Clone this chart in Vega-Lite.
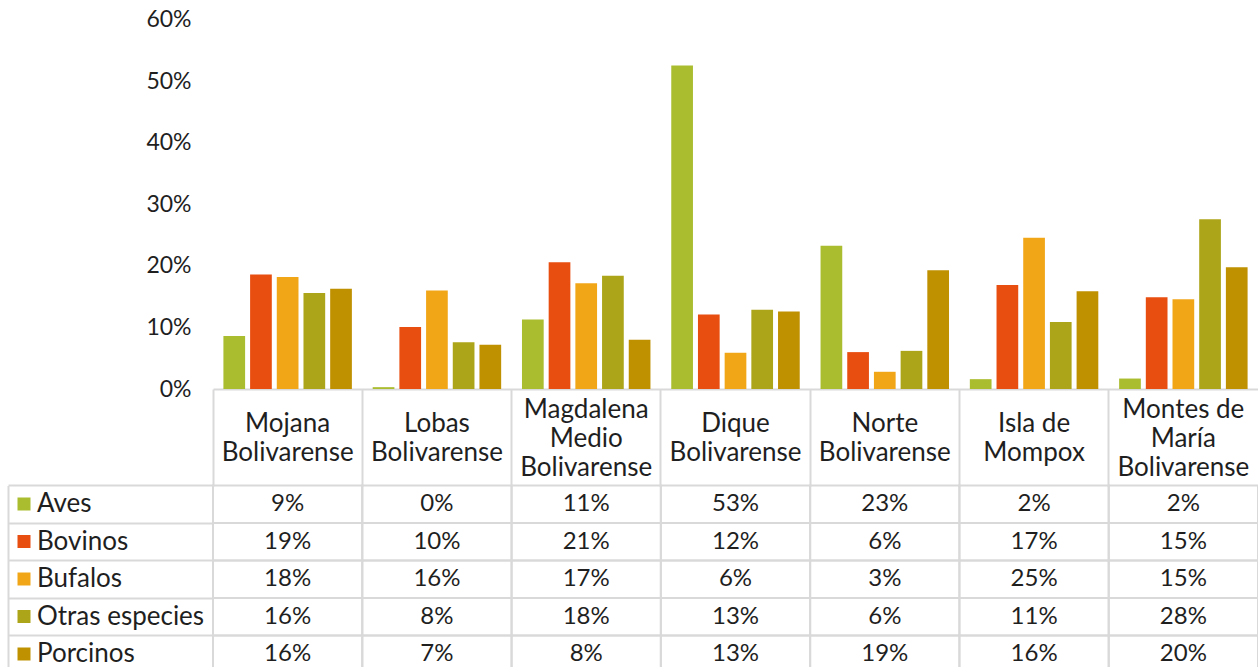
{
  "$schema": "https://vega.github.io/schema/vega-lite/v6.json",
  "width": 1045,
  "height": 389,
  "autosize": "none",
  "padding": {"left": 213, "top": 0, "right": 0, "bottom": 278},
  "background": "white",
  "config": {
    "font": "Lato",
    "view": {"stroke": null},
    "axis": {"labelColor": "#1f1f1f", "labelFont": "Lato"},
    "legend": {"labelColor": "#1f1f1f", "labelFont": "Lato"}
  },
  "data": {
    "values": [
      {"region": "Mojana Bolivarense", "species": "Aves", "value": 0.086},
      {"region": "Mojana Bolivarense", "species": "Bovinos", "value": 0.186},
      {"region": "Mojana Bolivarense", "species": "Bufalos", "value": 0.182},
      {"region": "Mojana Bolivarense", "species": "Otras especies", "value": 0.156},
      {"region": "Mojana Bolivarense", "species": "Porcinos", "value": 0.163},
      {"region": "Lobas Bolivarense", "species": "Aves", "value": 0.003},
      {"region": "Lobas Bolivarense", "species": "Bovinos", "value": 0.101},
      {"region": "Lobas Bolivarense", "species": "Bufalos", "value": 0.160},
      {"region": "Lobas Bolivarense", "species": "Otras especies", "value": 0.076},
      {"region": "Lobas Bolivarense", "species": "Porcinos", "value": 0.072},
      {"region": "Magdalena Medio Bolivarense", "species": "Aves", "value": 0.113},
      {"region": "Magdalena Medio Bolivarense", "species": "Bovinos", "value": 0.206},
      {"region": "Magdalena Medio Bolivarense", "species": "Bufalos", "value": 0.172},
      {"region": "Magdalena Medio Bolivarense", "species": "Otras especies", "value": 0.184},
      {"region": "Magdalena Medio Bolivarense", "species": "Porcinos", "value": 0.080},
      {"region": "Dique Bolivarense", "species": "Aves", "value": 0.526},
      {"region": "Dique Bolivarense", "species": "Bovinos", "value": 0.121},
      {"region": "Dique Bolivarense", "species": "Bufalos", "value": 0.059},
      {"region": "Dique Bolivarense", "species": "Otras especies", "value": 0.129},
      {"region": "Dique Bolivarense", "species": "Porcinos", "value": 0.126},
      {"region": "Norte Bolivarense", "species": "Aves", "value": 0.233},
      {"region": "Norte Bolivarense", "species": "Bovinos", "value": 0.060},
      {"region": "Norte Bolivarense", "species": "Bufalos", "value": 0.028},
      {"region": "Norte Bolivarense", "species": "Otras especies", "value": 0.062},
      {"region": "Norte Bolivarense", "species": "Porcinos", "value": 0.193},
      {"region": "Isla de Mompox", "species": "Aves", "value": 0.016},
      {"region": "Isla de Mompox", "species": "Bovinos", "value": 0.169},
      {"region": "Isla de Mompox", "species": "Bufalos", "value": 0.246},
      {"region": "Isla de Mompox", "species": "Otras especies", "value": 0.109},
      {"region": "Isla de Mompox", "species": "Porcinos", "value": 0.159},
      {"region": "Montes de María Bolivarense", "species": "Aves", "value": 0.017},
      {"region": "Montes de María Bolivarense", "species": "Bovinos", "value": 0.149},
      {"region": "Montes de María Bolivarense", "species": "Bufalos", "value": 0.146},
      {"region": "Montes de María Bolivarense", "species": "Otras especies", "value": 0.276},
      {"region": "Montes de María Bolivarense", "species": "Porcinos", "value": 0.198}
    ]
  },
  "layer": [
    {
      "mark": {"type": "bar"},
      "encoding": {
        "x": {
          "field": "region",
          "type": "nominal",
          "sort": ["Mojana Bolivarense", "Lobas Bolivarense", "Magdalena Medio Bolivarense", "Dique Bolivarense", "Norte Bolivarense", "Isla de Mompox", "Montes de María Bolivarense"],
          "scale": {"paddingInner": 0, "paddingOuter": 0},
          "axis": {
            "title": null,
            "orient": "bottom",
            "labelAngle": 0,
            "labelFontSize": 26,
            "labelLineHeight": 29,
            "labelBaseline": "middle",
            "labelPadding": -62.5,
            "labelOverlap": false,
            "labelBound": false,
            "labelLimit": 400,
            "labelExpr": "datum.label == 'Montes de María Bolivarense' || datum.label == 'Magdalena Medio Bolivarense' ? '' : datum.label == 'Isla de Mompox' ? ['Isla de', 'Mompox'] : split(datum.label, ' ')",
            "bandPosition": 0,
            "ticks": true,
            "tickSize": 97,
            "tickColor": "#d9d9d9",
            "tickWidth": 2,
            "domainColor": "#d9d9d9",
            "domainWidth": 2
          }
        },
        "xOffset": {"field": "species", "type": "nominal", "scale": {"paddingInner": 0.187, "paddingOuter": 0.39}},
        "y": {
          "field": "value",
          "type": "quantitative",
          "scale": {"domain": [0, 0.6325], "nice": false, "zero": true},
          "axis": {
            "title": null,
            "values": [0, 0.1, 0.2, 0.3, 0.4, 0.5, 0.6],
            "format": ".0%",
            "labelFontSize": 23,
            "labelPadding": 22,
            "ticks": false,
            "domain": false,
            "grid": false
          }
        },
        "color": {
          "field": "species",
          "type": "nominal",
          "scale": {
            "domain": ["Aves", "Bovinos", "Bufalos", "Otras especies", "Porcinos"],
            "range": ["#AABD2F", "#E84E10", "#F1A618", "#ACA519", "#BF9000"]
          },
          "legend": {
            "title": null,
            "orient": "none",
            "legendX": -202,
            "legendY": 491,
            "padding": 0,
            "symbolType": "square",
            "symbolSize": 169,
            "symbolStrokeWidth": 0,
            "labelFontSize": 26,
            "labelOffset": 0,
            "rowPadding": 11.5,
            "labelLimit": 300
          }
        }
      }
    },
    {
      "mark": {"type": "rect", "fill": "white", "fillOpacity": 0, "stroke": "#d9d9d9", "strokeWidth": 2},
      "encoding": {
        "x": {
          "field": "region",
          "type": "nominal",
          "sort": ["Mojana Bolivarense", "Lobas Bolivarense", "Magdalena Medio Bolivarense", "Dique Bolivarense", "Norte Bolivarense", "Isla de Mompox", "Montes de María Bolivarense"],
          "scale": {"paddingInner": 0, "paddingOuter": 0},
          "axis": {
            "title": null,
            "orient": "bottom",
            "labelAngle": 0,
            "labelFontSize": 26,
            "labelLineHeight": 29,
            "labelBaseline": "middle",
            "labelPadding": -77,
            "labelOverlap": false,
            "labelBound": false,
            "labelLimit": 400,
            "labelExpr": "datum.label == 'Montes de María Bolivarense' ? ['Montes de', 'María', 'Bolivarense'] : datum.label == 'Magdalena Medio Bolivarense' ? ['Magdalena', 'Medio', 'Bolivarense'] : ''",
            "bandPosition": 0,
            "ticks": true,
            "tickSize": 97,
            "tickOpacity": 0,
            "domain": false
          }
        },
        "y": {
          "field": "species",
          "type": "nominal",
          "scale": {"range": [485.5, 673], "paddingInner": 0, "paddingOuter": 0},
          "axis": {
            "title": null,
            "orient": "left",
            "labels": false,
            "domain": false,
            "bandPosition": 0,
            "ticks": true,
            "tickSize": 205,
            "tickColor": "#d9d9d9",
            "tickWidth": 2
          }
        }
      }
    },
    {
      "mark": {"type": "text", "fontSize": 24, "color": "#1f1f1f", "baseline": "middle"},
      "encoding": {
        "x": {
          "field": "region",
          "type": "nominal",
          "sort": ["Mojana Bolivarense", "Lobas Bolivarense", "Magdalena Medio Bolivarense", "Dique Bolivarense", "Norte Bolivarense", "Isla de Mompox", "Montes de María Bolivarense"],
          "scale": {"paddingInner": 0, "paddingOuter": 0},
          "axis": null
        },
        "y": {
          "field": "species",
          "type": "nominal",
          "scale": {"range": [485.5, 673], "paddingInner": 0, "paddingOuter": 0},
          "axis": {
            "title": null,
            "orient": "left",
            "labels": false,
            "ticks": false,
            "offset": 205,
            "domain": true,
            "domainColor": "#d9d9d9",
            "domainWidth": 2
          }
        },
        "text": {"field": "value", "type": "quantitative", "format": ".0%"}
      }
    }
  ],
  "resolve": {"scale": {"x": "independent", "y": "independent"}}
}
